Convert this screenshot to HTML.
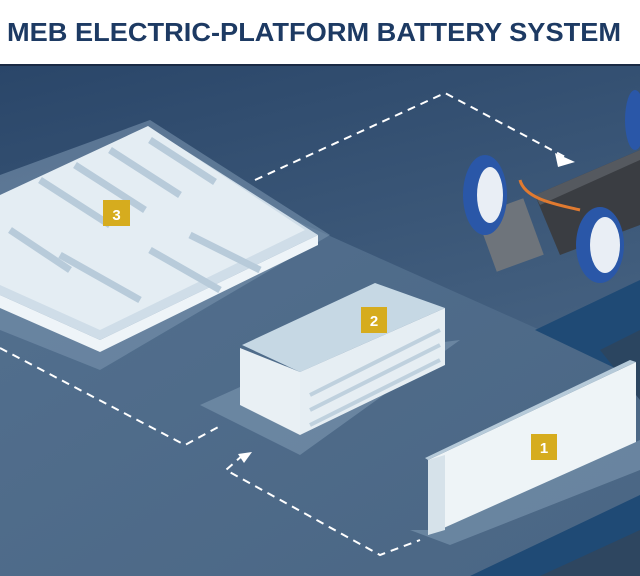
<!DOCTYPE html>
<html><head><meta charset="utf-8"><style>
html,body{margin:0;padding:0;width:640px;height:576px;overflow:hidden;background:#fff}
svg{position:absolute;left:0;top:0}
</style></head><body>
<svg width="640" height="576" viewBox="0 0 640 576">
<defs>
<linearGradient id="bg" x1="0" y1="0" x2="0.3" y2="1">
<stop offset="0" stop-color="#2a4669"/><stop offset="1" stop-color="#4e6a88"/></linearGradient>
<linearGradient id="fl" x1="0" y1="0" x2="1" y2="1">
<stop offset="0" stop-color="#53708f"/><stop offset="1" stop-color="#4a6684"/></linearGradient>
</defs>
<rect x="0" y="0" width="640" height="64" fill="#fff"/>
<text x="7" y="41" textLength="614" lengthAdjust="spacingAndGlyphs" font-family="Liberation Sans,sans-serif" font-weight="bold" font-size="26" fill="#1d3a63">MEB ELECTRIC-PLATFORM BATTERY SYSTEM</text>
<rect x="0" y="64" width="640" height="512" fill="url(#bg)"/>
<rect x="0" y="64" width="640" height="2" fill="#1a2a44"/>
<!-- floor -->
<polygon points="0,250 160,160 540,330 640,280 640,500 470,576 0,576" fill="url(#fl)"/>
<polygon points="535,330 640,280 640,380" fill="#1f4a75"/>
<polygon points="600,350 640,330 640,400" fill="#2b4560"/>
<polygon points="470,576 640,495 640,576" fill="#1f4a75"/>
<polygon points="540,576 640,530 640,576" fill="#2e4660"/>
<!-- module 3 -->
<polygon points="0,175 150,120 330,235 100,370 0,330" fill="#7892ad" opacity="0.6"/>
<polygon points="0,200 150,128 318,235 100,340 0,295" fill="#cfdde8"/>
<polygon points="0,295 100,340 318,235 318,245 100,352 0,308" fill="#eef4f8"/>
<polygon points="0,195 148,126 305,230 100,330 0,285" fill="#e4edf3"/>
<g stroke="#b8cbda" stroke-width="7">
<line x1="40" y1="180" x2="110" y2="225"/><line x1="75" y1="165" x2="145" y2="210"/>
<line x1="110" y1="150" x2="180" y2="195"/><line x1="150" y1="140" x2="215" y2="182"/>
<line x1="10" y1="230" x2="70" y2="270"/><line x1="150" y1="250" x2="220" y2="290"/>
<line x1="190" y1="235" x2="260" y2="270"/><line x1="60" y1="255" x2="140" y2="300"/>
</g>
<rect x="103" y="200" width="27" height="26" fill="#d6ac1e"/>
<text x="116.5" y="220" font-family="Liberation Sans,sans-serif" font-weight="bold" font-size="15" fill="#fff" text-anchor="middle">3</text>
<!-- module 2 -->
<polygon points="200,405 300,360 460,340 300,455" fill="#7691ab" opacity="0.7"/>
<polygon points="242,345 375,283 445,308 300,372" fill="#c6d8e4"/>
<polygon points="300,372 445,308 445,365 300,435" fill="#e6eef3"/>
<polygon points="240,348 300,372 300,435 240,405" fill="#e9f0f4"/>
<g stroke="#bfd1de" stroke-width="4">
<line x1="310" y1="395" x2="440" y2="330"/><line x1="310" y1="410" x2="440" y2="345"/><line x1="310" y1="425" x2="440" y2="360"/>
</g>
<rect x="361" y="307" width="26" height="26" fill="#d6ac1e"/>
<text x="374" y="326" font-family="Liberation Sans,sans-serif" font-weight="bold" font-size="15" fill="#fff" text-anchor="middle">2</text>
<!-- module 1 -->
<polygon points="410,530 435,530 640,440 640,470 450,545" fill="#7691ab" opacity="0.7"/>
<polygon points="428,460 636,362 636,442 428,535" fill="#eef4f7"/>
<polygon points="428,460 445,455 445,530 428,535" fill="#d6e2ea"/>
<polygon points="428,460 636,362 630,360 425,458" fill="#b6cad9"/>
<rect x="531" y="434" width="26" height="26" fill="#d6ac1e"/>
<text x="544" y="453" font-family="Liberation Sans,sans-serif" font-weight="bold" font-size="15" fill="#fff" text-anchor="middle">1</text>
<!-- chassis -->
<polygon points="535,195 640,150 640,225 560,255" fill="#3a3d42"/>
<polygon points="535,195 640,150 640,160 540,205" fill="#55595f"/>
<rect x="485" y="205" width="50" height="60" fill="#6e747b" transform="rotate(-20 510 235)"/>
<ellipse cx="485" cy="195" rx="22" ry="40" fill="#2a57a8"/><ellipse cx="490" cy="195" rx="13" ry="28" fill="#e9eef5"/>
<ellipse cx="600" cy="245" rx="24" ry="38" fill="#2a57a8"/><ellipse cx="605" cy="245" rx="15" ry="28" fill="#e9eef5"/>
<ellipse cx="635" cy="120" rx="10" ry="30" fill="#2a57a8"/>
<path d="M520,180 C525,200 560,205 580,210" stroke="#e07a30" stroke-width="3" fill="none"/>
<!-- dashed connectors -->
<g stroke="#fff" stroke-width="2" stroke-dasharray="8,6" fill="none">
<polyline points="255,180 445,93 565,157"/>
<polyline points="0,348 185,445 222,425"/>
<polyline points="243,455 226,470 380,555 420,540"/>
</g>
<polygon points="555,153 575,162 558,167" fill="#fff"/>
<polygon points="252,452 238,454 244,463" fill="#fff"/>
</svg>
</body></html>
